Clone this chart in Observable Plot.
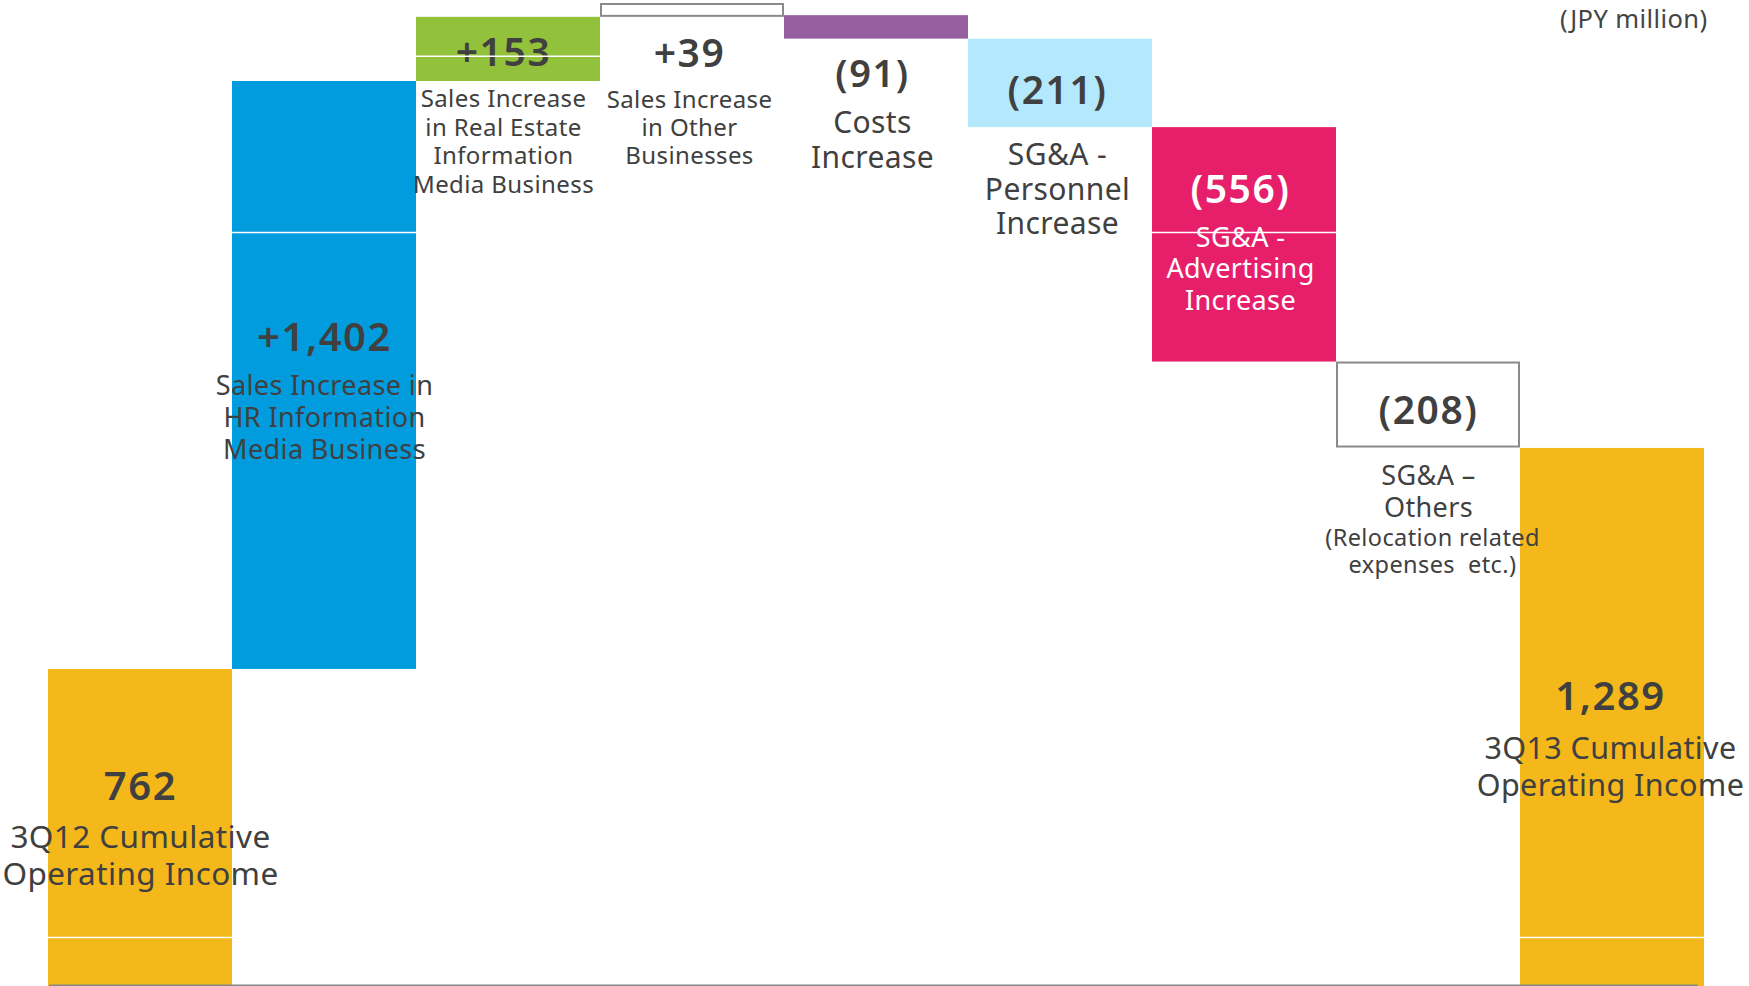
<!DOCTYPE html>
<html>
<head>
<meta charset="utf-8">
<script src="https://cdn.jsdelivr.net/npm/d3@7"></script>
<script src="https://cdn.jsdelivr.net/npm/@observablehq/plot@0.6"></script>
<style>
  html, body { margin: 0; padding: 0; background: #fff; overflow: hidden; }
  #chart svg { display: block; }
  #chart g[font-weight="600"] text { letter-spacing: 1.6px; }
  #chart g[font-weight="400"] text { letter-spacing: 0.4px; }
</style>
</head>
<body>
<div id="chart"></div>
<script>
// ---- data ----
const categories = ["start", "hr", "realEstate", "other", "costs", "personnel", "advertising", "others", "end"];
const barLow  = [0, 762, 2164, 2317, 2265, 2054, 1495, 1290, 0];
const barHigh = [762, 2164, 2317, 2350, 2321, 2265, 2054, 1495, 1289];
const valueLabels = ["762", "+1,402", "+153", "+39", "(91)", "(211)", "(556)", "(208)", "1,289"];
const categoryLabels = [
  "3Q12 Cumulative\nOperating Income",
  "Sales Increase in\nHR Information\nMedia Business",
  "Sales Increase\nin Real Estate\nInformation\nMedia Business",
  "Sales Increase\nin Other\nBusinesses",
  "Costs\nIncrease",
  "SG&A -\nPersonnel\nIncrease",
  "SG&A -\nAdvertising\nIncrease",
  "SG&A –\nOthers",
  "3Q13 Cumulative\nOperating Income"
];
const noteLabels = ["", "", "", "", "", "", "", "(Relocation related\nexpenses  etc.)", ""];
const seamCategories = ["start", "hr", "realEstate", "advertising", "end"];
const seamValues = [123, 1804, 2224, 1804, 123];
const unitLabel = "(JPY million)";

// ---- styles ----
const barFills = ["#F4B81B", "#009CDD", "#92C13C", "#FFFFFF", "#965FA0", "#B4E8FC", "#E71F6B", "#FFFFFF", "#F4B81B"];
const outlined = [false, false, false, true, false, false, false, true, false];
const textColors = ["#404040", "#404040", "#404040", "#404040", "#404040", "#404040", "#FFFFFF", "#404040", "#404040"];
const layout = [
  {dx: 0,  vDy: 131, vSize: 40, cDy: 179, cSize: 31.5, cLh: 37},
  {dx: 0,  vDy: 269, vSize: 40, cDy: 313, cSize: 27,   cLh: 32},
  {dx: -5, vDy: 49,  vSize: 39, cDy: 90,  cSize: 24,   cLh: 28.5},
  {dx: -3, vDy: 63,  vSize: 39, cDy: 104, cSize: 24,   cLh: 28},
  {dx: -4, vDy: 71,  vSize: 38, cDy: 117, cSize: 30,   cLh: 35},
  {dx: -3, vDy: 65,  vSize: 39, cDy: 126, cSize: 30,   cLh: 34.5},
  {dx: -4, vDy: 75,  vSize: 39, cDy: 119, cSize: 27,   cLh: 31.5},
  {dx: 0,  vDy: 62,  vSize: 39, cDy: 123, cSize: 27,   cLh: 32, nDy: 184, nSize: 23.5, nLh: 27},
  {dx: -2, vDy: 262, vSize: 40, cDy: 311, cSize: 30.5, cLh: 37}
];
const FONT = "'Noto Sans', 'Open Sans', sans-serif";

const rows = categories.map((c, i) => ({
  cat: c, low: barLow[i], high: barHigh[i],
  value: valueLabels[i], label: categoryLabels[i], note: noteLabels[i],
  fill: barFills[i], outlined: outlined[i]
}));
const seams = seamCategories.map((c, i) => ({cat: c, y: seamValues[i]}));

const textMarks = [];
rows.forEach((d, i) => {
  const L = layout[i];
  textMarks.push(Plot.text([d], {
    x: "cat", y: "high", text: "value", dx: L.dx, dy: L.vDy, lineAnchor: "bottom",
    fontSize: L.vSize, fontWeight: 600, fill: textColors[i], fontFamily: FONT
  }));
  const n = d.label.split("\n").length;
  textMarks.push(Plot.text([d], {
    x: "cat", y: "high", text: "label", lineAnchor: "bottom", dx: L.dx,
    lineHeight: L.cLh / L.cSize, dy: L.cDy + (n - 1) * L.cLh,
    fontSize: L.cSize, fontWeight: 400, fill: textColors[i], fontFamily: FONT
  }));
  if (d.note) {
    const m = d.note.split("\n").length;
    textMarks.push(Plot.text([d], {
      x: "cat", y: "high", text: "note", lineAnchor: "bottom", dx: L.dx + 4,
      lineHeight: L.nLh / L.nSize, dy: L.nDy + (m - 1) * L.nLh,
      fontSize: L.nSize, fontWeight: 400, fill: textColors[i], fontFamily: FONT
    }));
  }
});

const chart = Plot.plot({
  width: 1749,
  height: 986,
  marginLeft: 47,
  marginRight: 45,
  marginTop: 0,
  marginBottom: 0,
  style: {fontFamily: FONT, background: "#fff"},
  x: {domain: categories, padding: 0, axis: null},
  y: {domain: [0, 2350], range: [988.5, 3], axis: null},
  color: {type: "identity"},
  marks: [
    Plot.barY(rows.filter(d => !d.outlined), {x: "cat", y1: "low", y2: "high", fill: "fill"}),
    Plot.barY(rows.filter(d => d.outlined), {x: "cat", y1: "low", y2: "high", fill: "white", stroke: "#8A8A8A", strokeWidth: 2, inset: 1}),
    ...textMarks,
    Plot.tickY(seams, {x: "cat", y: "y", stroke: "white", strokeWidth: 1.5}),
    Plot.ruleY([0], {dy: -3.5, stroke: "#888", strokeWidth: 2, insetLeft: 2, insetRight: 6}),
    Plot.text([unitLabel], {
      frameAnchor: "top-right", text: d => d, dx: 3, dy: 27, lineAnchor: "bottom",
      textAnchor: "end", fontSize: 25.5, fontWeight: 400, fill: "#444", fontFamily: FONT
    })
  ]
});
document.getElementById("chart").appendChild(chart);
</script>
</body>
</html>
